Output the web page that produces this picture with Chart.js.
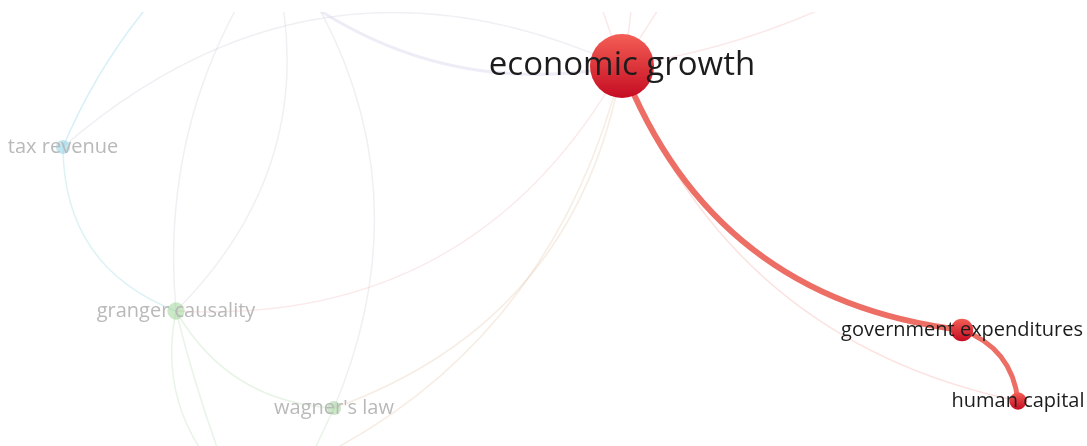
<!DOCTYPE html>
<html>
<head>
<meta charset="utf-8">
<script src="https://cdn.jsdelivr.net/npm/chart.js@4.4.0/dist/chart.umd.min.js"></script>
<style>
  html, body { margin: 0; padding: 0; background: #fff; }
  #wrap { width: 1087px; height: 446px; }
</style>
</head>
<body>
<div id="wrap"><canvas id="map" width="1087" height="446"></canvas></div>
<script>
// terms shown in the view (map coordinates)
const termLabels = ['economic growth', 'government expenditures', 'human capital', 'tax revenue', 'granger causality', "wagner's law"];
const termX = [622, 962, 1018, 63, 176, 334];
const termY = [66, 330, 401, 147, 311, 408];
const termOccurrences = [41, 5, 3, 2, 3, 2];
const termCluster = [1, 1, 1, 3, 2, 2];

// terms just outside the window, only their links are visible
const outsideX = [190, 280, 268, 290, 290, 230, 305, 225, 229, 585, 632, 690, 880];
const outsideY = [-40, -60, -60, -40, -10, 495, 470, 480, 480, -40, -40, -40, -20];

// links (indices: visible terms first, then outside terms)
const linkSource = [0, 1, 0, 0, 0, 0, 3, 3, 3, 4, 4, 5, 0, 4, 4, 4, 5, 0, 0, 0, 0];
const linkTarget = [1, 2, 2, 4, 5, 11, 4, 0, 6, 7, 8, 9, 10, 5, 13, 14, 12, 15, 16, 17, 18];
const linkStrength = [6, 5, 1, 1, 1, 1, 1, 1, 1, 1, 1, 1, 3, 1, 1, 1, 1, 1, 1, 1, 1];

const selectedTerm = 1;

// ---- styles ----
const linkBend = [0.30, -0.31, 0.27, -0.31, -0.29, -0.27, 0.34, -0.32, -0.10, -0.19, 0.30, 0.27,
                  -0.22, 0.27, 0.26, 0.03, 0, 0, 0.07, 0, 0.09];
const pink = 'rgba(236,140,140,0.2)';
const sand = 'rgba(225,195,165,0.3)';
const green = 'rgba(185,220,180,0.32)';
const grey = 'rgba(205,208,218,0.32)';
const linkColor = ['#ec6e64', '#ec6e64', 'rgba(236,110,100,0.2)', pink, sand, sand,
                   'rgba(150,215,225,0.32)', grey, 'rgba(140,210,230,0.35)', grey, grey, grey,
                   'rgba(195,185,225,0.28)', green, green, green, green, pink, pink, pink, pink];
const linkWidth = s => (s <= 1 ? 1.5 : s);
const nodeRadius = occ => 5 * Math.sqrt(occ);
const labelSize = occ => (occ > 10 ? 33 : 20);

const allX = termX.concat(outsideX);
const allY = termY.concat(outsideY);

const neighbours = new Set([selectedTerm]);
linkSource.forEach((s, i) => {
    if (s === selectedTerm) neighbours.add(linkTarget[i]);
    if (linkTarget[i] === selectedTerm) neighbours.add(s);
});

function nodeFill(ctx) {
    const i = ctx.dataIndex;
    if (i === undefined) return '#d9202c';
    if (!neighbours.has(i)) {
        return termCluster[i] === 3 ? 'rgba(130,205,230,0.5)' : 'rgba(140,205,130,0.45)';
    }
    const sy = ctx.chart.scales && ctx.chart.scales.y;
    const py = sy ? sy.getPixelForValue(termY[i]) : NaN;
    if (!Number.isFinite(py)) return '#d9202c';
    const r = nodeRadius(termOccurrences[i]);
    const g = ctx.chart.ctx.createLinearGradient(0, py - r, 0, py + r);
    g.addColorStop(0, '#f45e55');
    g.addColorStop(1, '#c50c22');
    return g;
}

const linkLayer = {
    id: 'linkLayer',
    beforeDatasetsDraw(chart) {
        const { ctx, chartArea: a, scales: { x, y } } = chart;
        ctx.save();
        ctx.beginPath();
        ctx.rect(a.left, a.top, a.right - a.left, a.bottom - a.top);
        ctx.clip();
        ctx.lineCap = 'round';
        const order = linkSource.map((_, i) => i).sort((p, q) => linkStrength[p] - linkStrength[q]);
        order.forEach(i => {
            const x0 = x.getPixelForValue(allX[linkSource[i]]);
            const y0 = y.getPixelForValue(allY[linkSource[i]]);
            const x1 = x.getPixelForValue(allX[linkTarget[i]]);
            const y1 = y.getPixelForValue(allY[linkTarget[i]]);
            const dx = x1 - x0, dy = y1 - y0;
            const cx = (x0 + x1) / 2 - linkBend[i] * dy;
            const cy = (y0 + y1) / 2 + linkBend[i] * dx;
            ctx.beginPath();
            ctx.moveTo(x0, y0);
            ctx.quadraticCurveTo(cx, cy, x1, y1);
            ctx.strokeStyle = linkColor[i];
            ctx.lineWidth = linkWidth(linkStrength[i]);
            ctx.stroke();
        });
        ctx.restore();
    }
};

const labelLayer = {
    id: 'labelLayer',
    afterDatasetsDraw(chart) {
        const { ctx, scales: { x, y } } = chart;
        ctx.save();
        ctx.textAlign = 'center';
        ctx.textBaseline = 'middle';
        termLabels.forEach((t, i) => {
            ctx.font = labelSize(termOccurrences[i]) + 'px "Open Sans"';
            ctx.fillStyle = neighbours.has(i) ? '#1c1c1c' : '#b9b9b9';
            ctx.fillText(t, x.getPixelForValue(termX[i]), y.getPixelForValue(termY[i]));
        });
        ctx.restore();
    }
};

new Chart(document.getElementById('map'), {
    type: 'bubble',
    data: {
        datasets: [{
            label: 'terms',
            data: termLabels.map((_, i) => ({ x: termX[i], y: termY[i], r: nodeRadius(termOccurrences[i]) })),
            backgroundColor: nodeFill,
            borderWidth: 0,
            hoverRadius: 0
        }]
    },
    options: {
        responsive: false,
        animation: false,
        devicePixelRatio: 1,
        events: [],
        layout: { autoPadding: false, padding: { top: 12, left: 0, right: 0, bottom: 0 } },
        plugins: { legend: { display: false }, tooltip: { enabled: false } },
        scales: {
            x: { type: 'linear', min: 0, max: 1087, display: false },
            y: { type: 'linear', min: 12, max: 446, reverse: true, display: false }
        }
    },
    plugins: [linkLayer, labelLayer]
});
</script>
</body>
</html>
